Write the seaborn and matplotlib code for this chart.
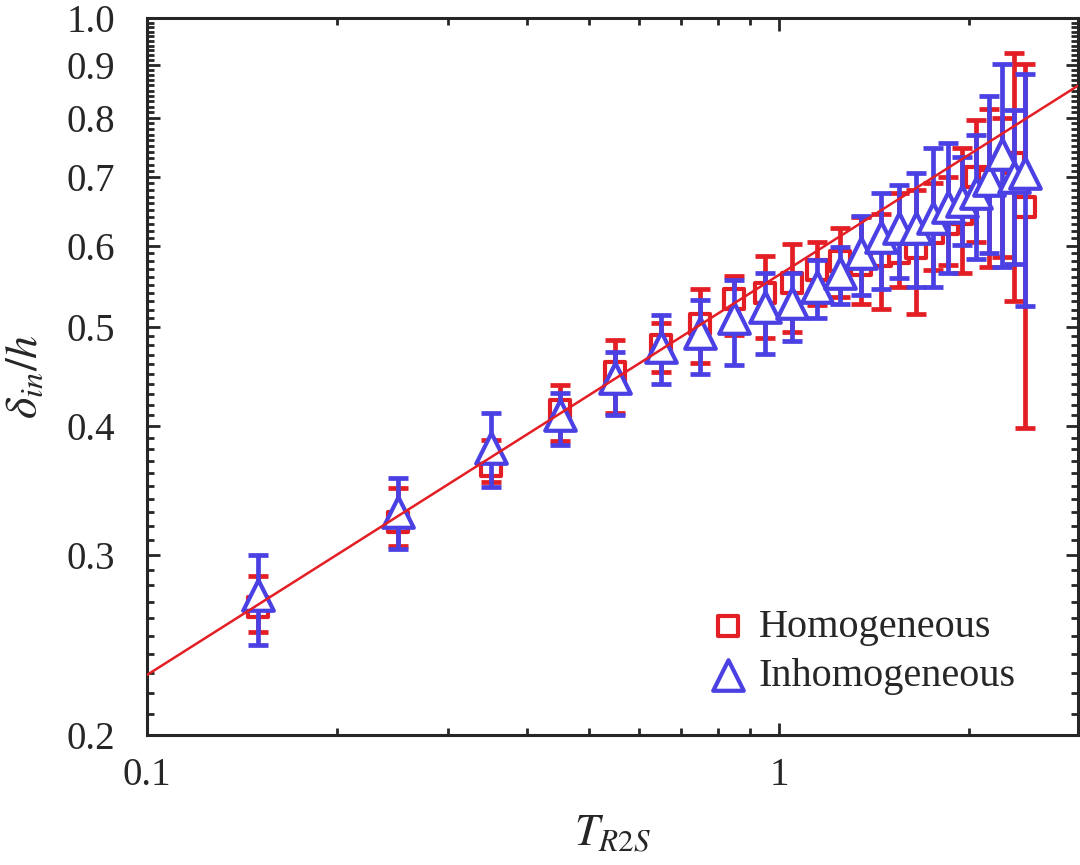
import numpy as np
import pandas as pd
import matplotlib
matplotlib.use('Agg')
import matplotlib.pyplot as plt
import matplotlib.ticker as mticker
import seaborn as sns

# T_R2S bins (shared by both data sets)
t_r2s = [0.15, 0.25, 0.35, 0.45, 0.55, 0.65, 0.75, 0.85, 0.95, 1.05, 1.15, 1.25,
         1.35, 1.45, 1.55, 1.65, 1.75, 1.85, 1.95, 2.05, 2.15, 2.25, 2.35, 2.45]

# Homogeneous: mean, lower and upper end of error bar
homo_mean = [0.267, 0.323, 0.366, 0.415, 0.452, 0.480, 0.503, 0.533, 0.540, 0.552, 0.568, 0.580,
             0.575, 0.587, 0.590, 0.597, 0.617, 0.630, 0.645, 0.700, 0.695, 0.705, 0.722, 0.655]
homo_lo = [0.252, 0.306, 0.353, 0.387, 0.412, 0.452, 0.461, 0.491, 0.488, 0.494, 0.525, 0.535,
           0.527, 0.521, 0.547, 0.515, 0.568, 0.575, 0.565, 0.605, 0.572, 0.585, 0.530, 0.399]
homo_hi = [0.286, 0.348, 0.388, 0.439, 0.486, 0.505, 0.544, 0.561, 0.586, 0.603, 0.605, 0.625,
           0.640, 0.645, 0.675, 0.680, 0.690, 0.700, 0.747, 0.795, 0.815, 0.800, 0.924, 0.902]

# Inhomogeneous
inhomo_mean = [0.274, 0.330, 0.381, 0.410, 0.446, 0.478, 0.493, 0.510, 0.523, 0.528, 0.547, 0.564,
               0.590, 0.612, 0.625, 0.625, 0.638, 0.654, 0.664, 0.675, 0.695, 0.738, 0.700, 0.706]
inhomo_lo = [0.245, 0.304, 0.349, 0.384, 0.410, 0.440, 0.450, 0.459, 0.471, 0.485, 0.510, 0.527,
             0.537, 0.545, 0.558, 0.547, 0.547, 0.565, 0.601, 0.583, 0.590, 0.572, 0.576, 0.524]
inhomo_hi = [0.300, 0.356, 0.412, 0.431, 0.473, 0.514, 0.531, 0.555, 0.565, 0.564, 0.581, 0.598,
             0.641, 0.675, 0.687, 0.706, 0.747, 0.755, 0.732, 0.769, 0.840, 0.902, 0.813, 0.882]

# power-law fit  delta/h = a * T^b
fit_a = 0.562
fit_b = 0.39

red = '#e31e24'
blue = '#4b40e3'

sns.set_style('ticks')
plt.rcParams['font.family'] = ['Liberation Serif', 'DejaVu Serif']
plt.rcParams['mathtext.fontset'] = 'stix'

df = pd.concat([
    pd.DataFrame({'T': t_r2s, 'd': homo_mean, 'lo': homo_lo, 'hi': homo_hi, 'case': 'Homogeneous'}),
    pd.DataFrame({'T': t_r2s, 'd': inhomo_mean, 'lo': inhomo_lo, 'hi': inhomo_hi, 'case': 'Inhomogeneous'}),
], ignore_index=True)

fig = plt.figure(figsize=(10.8, 8.65), dpi=100)
ax = fig.add_axes([0.136, 0.150, 0.862, 0.829])

styles = {'Homogeneous': (red, 's', 15), 'Inhomogeneous': (blue, '^', 22)}
for i, (case, (col, mk, ms)) in enumerate(styles.items()):
    sub = df[df['case'] == case]
    yerr = [sub['d'] - sub['lo'], sub['hi'] - sub['d']]
    ax.errorbar(sub['T'], sub['d'], yerr=yerr, fmt='none', ecolor=col, elinewidth=3.4,
                capsize=7, capthick=3.4, zorder=2 + 2 * i)
    sns.scatterplot(x=sub['T'], y=sub['d'], marker=mk, s=ms ** 2, facecolor='white',
                    edgecolor=col, linewidth=3, label=case, ax=ax, zorder=3 + 2 * i)

x_fit = np.logspace(-1, np.log10(3.0), 100)
sns.lineplot(x=x_fit, y=fit_a * x_fit ** fit_b, color=red, linewidth=1.8, ax=ax, zorder=6)

ax.set_xscale('log')
ax.set_yscale('log')
ax.set_xlim(0.1, 2.97)
ax.set_ylim(0.2, 1.0)

ax.xaxis.set_major_locator(mticker.FixedLocator([0.1, 1]))
ax.xaxis.set_major_formatter(mticker.FuncFormatter(lambda v, p: f'{v:g}'))
ax.xaxis.set_minor_locator(mticker.LogLocator(base=10, subs=np.arange(2, 10)))
ax.xaxis.set_minor_formatter(mticker.NullFormatter())
ax.yaxis.set_major_locator(mticker.FixedLocator(np.round(np.arange(0.2, 1.01, 0.1), 2)))
ax.yaxis.set_major_formatter(mticker.FuncFormatter(lambda v, p: f'{v:.1f}'))
ax.yaxis.set_minor_locator(mticker.FixedLocator(np.round(np.arange(0.2, 1.0, 0.01), 2)))
ax.yaxis.set_minor_formatter(mticker.NullFormatter())

ax.tick_params(which='both', direction='in', top=True, right=True, width=2, labelsize=28)
ax.tick_params(which='major', length=9)
ax.tick_params(which='minor', length=5)
ax.tick_params(axis='y', which='major', pad=23)
ax.tick_params(axis='x', which='major', pad=16)
for sp in ax.spines.values():
    sp.set_linewidth(2.2)
    sp.set_visible(True)

ax.set_xlabel(r'$T_{R2S}$', fontsize=32, labelpad=14)
ax.set_ylabel(r'$\delta_{in}/h$', fontsize=33, labelpad=14)

leg = ax.legend(loc='lower right', bbox_to_anchor=(0.955, 0.028), frameon=False, fontsize=29,
                handletextpad=0.15, borderpad=0, labelspacing=0.3, handlelength=1.2)

plt.savefig('out.png', dpi=100)
plt.close()
